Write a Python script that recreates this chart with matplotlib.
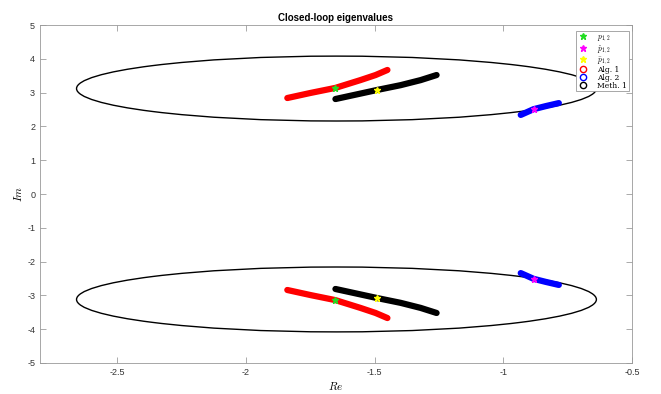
import numpy as np
import matplotlib.pyplot as plt
from matplotlib.patches import Ellipse
from matplotlib.lines import Line2D

plt.rcParams['font.family'] = ['Liberation Sans', 'DejaVu Sans']
plt.rcParams['mathtext.fontset'] = 'cm'

# eigenvalue loci (upper half, lower half is the conjugate)
alg1_re = [-1.839, -1.749, -1.652, -1.555, -1.496, -1.450]
alg1_im = [2.84, 2.99, 3.14, 3.37, 3.52, 3.67]
meth1_re = [-1.652, -1.489, -1.399, -1.321, -1.259]
meth1_im = [2.81, 3.08, 3.22, 3.37, 3.52]
alg2_re = [-0.932, -0.882, -0.835, -0.784]
alg2_im = [2.34, 2.51, 2.60, 2.69]

# nominal poles
p_re, p_im = -1.652, 3.14
phat_re, phat_im = -0.882, 2.51
pbar_re, pbar_im = -1.489, 3.08

# region ellipse
ell_center = (-1.648, 3.12)
ell_a, ell_b = 1.01, 0.96

fig = plt.figure(figsize=(6.61, 3.94), dpi=100)
ax = fig.add_axes([0.0605, 0.0787, 0.8955, 0.8578])

for sgn in [1, -1]:
    e = Ellipse((ell_center[0], sgn * ell_center[1]), 2 * ell_a, 2 * ell_b,
                fill=False, edgecolor='black', lw=1.0, zorder=1)
    ax.add_patch(e)
    ax.plot(alg1_re, sgn * np.array(alg1_im), color='red', lw=4.5,
            solid_capstyle='round', zorder=2)
    ax.plot(meth1_re, sgn * np.array(meth1_im), color='black', lw=4.5,
            solid_capstyle='round', zorder=2)
    ax.plot(alg2_re, sgn * np.array(alg2_im), color='blue', lw=4.5,
            solid_capstyle='round', zorder=2)
    ax.plot(p_re, sgn * p_im, '*', color='#22dd22', ms=5, zorder=3)
    ax.plot(phat_re, sgn * phat_im, '*', color='magenta', ms=5, zorder=3)
    ax.plot(pbar_re, sgn * pbar_im, '*', color='yellow', ms=5, zorder=3)

ax.set_xlim(-2.8, -0.5)
ax.set_ylim(-5, 5)
ax.set_xticks([-2.5, -2, -1.5, -1, -0.5])
ax.set_xticklabels(['-2.5', '-2', '-1.5', '-1', '-0.5'])
ax.set_yticks(range(-5, 6))
ax.set_yticklabels([str(v) for v in range(-5, 6)])
ax.tick_params(direction='in', length=4, width=0.5, color='#888888',
               labelsize=6.5, labelcolor='#333333', top=True, right=True)
for s in ax.spines.values():
    s.set_color('#999999')
    s.set_linewidth(0.6)

ax.set_title('Closed-loop eigenvalues', fontsize=7, fontweight='bold', pad=3)
ax.set_xlabel('$Re$', fontsize=8, labelpad=2)
ax.set_ylabel('$Im$', fontsize=8, labelpad=2)

handles = [
    Line2D([], [], ls='none', marker='*', color='#22dd22', ms=5, label='$p_{1,2}$'),
    Line2D([], [], ls='none', marker='*', color='magenta', ms=5, label=r'$\hat{p}_{1,2}$'),
    Line2D([], [], ls='none', marker='*', color='yellow', ms=5, label=r'$\bar{p}_{1,2}$'),
    Line2D([], [], ls='none', marker='o', mfc='none', mec='red', ms=4.5, label='Alg. 1'),
    Line2D([], [], ls='none', marker='o', mfc='none', mec='blue', ms=4.5, label='Alg. 2'),
    Line2D([], [], ls='none', marker='o', mfc='none', mec='black', ms=4.5, label='Meth. 1'),
]
leg = ax.legend(handles=handles, loc='upper right', bbox_to_anchor=(0.997, 0.988),
                prop={'family': 'DejaVu Serif', 'size': 5.5},
                fancybox=False, framealpha=1, edgecolor='#999999',
                handlelength=1.5, handletextpad=1.0, labelspacing=0.0,
                borderpad=0.25, borderaxespad=0.2)
leg.get_frame().set_linewidth(0.6)

fig.savefig('out.png', dpi=100)
